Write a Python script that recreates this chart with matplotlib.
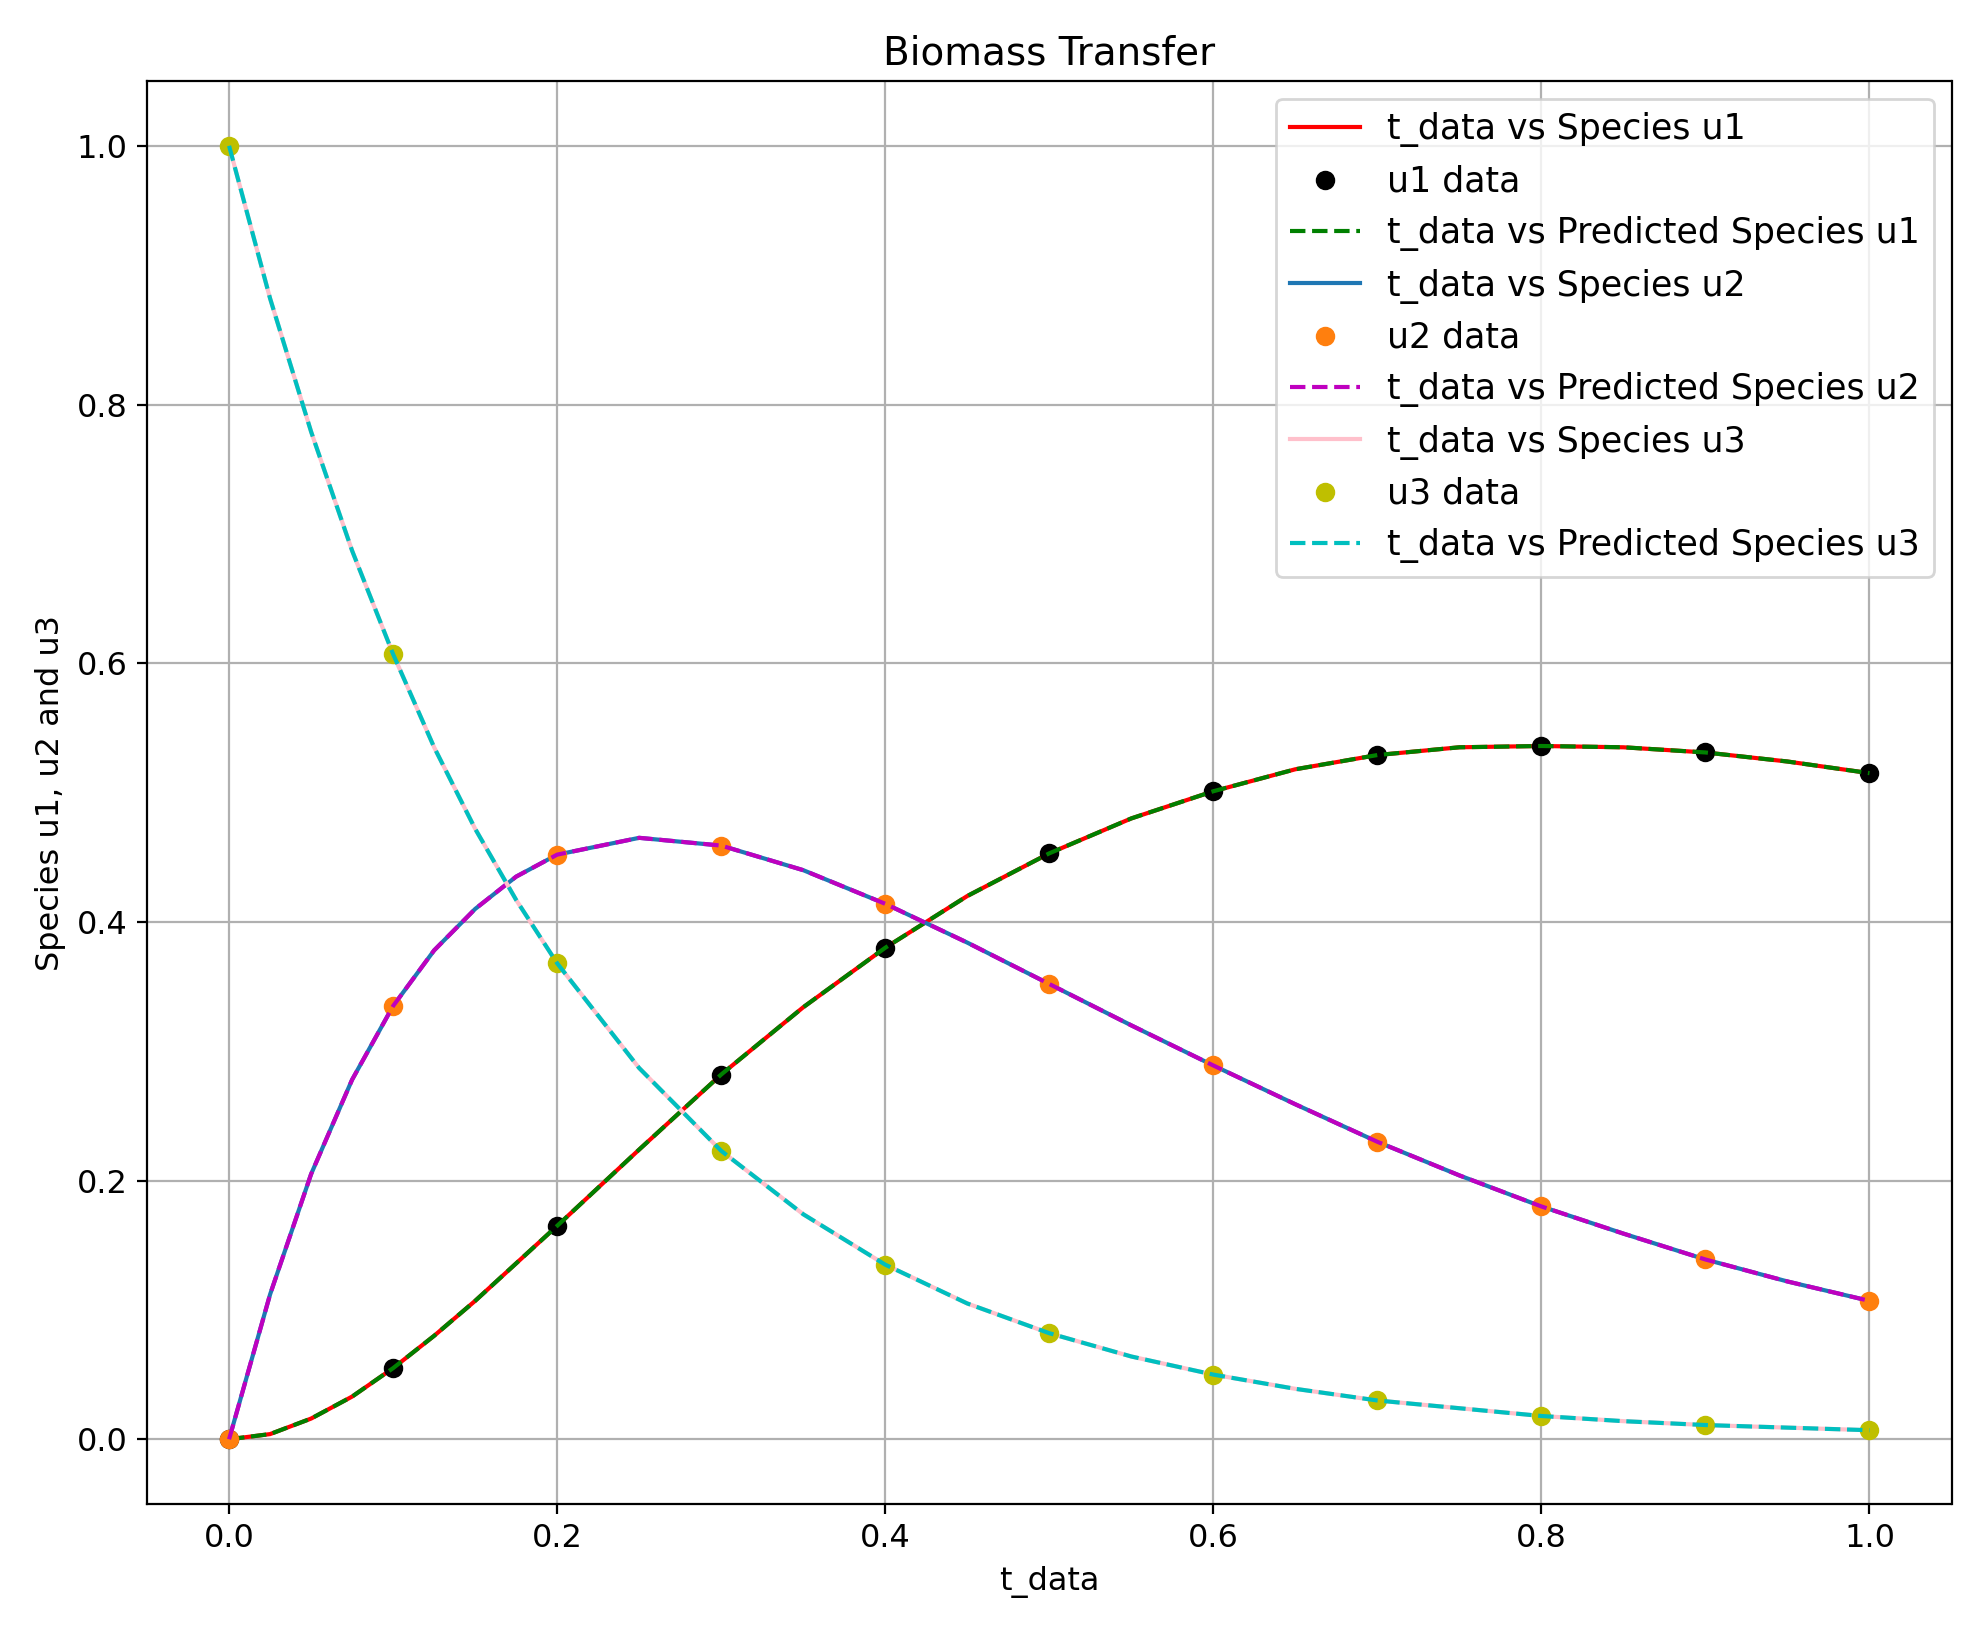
import numpy as np
import matplotlib.pyplot as plt

plt.rcParams["font.size"] = 11.5

# sampled data points
t_data = [0.0, 0.1, 0.2, 0.3, 0.4, 0.5, 0.6, 0.7, 0.8, 0.9, 1.0]
u1_data = [0.0, 0.055, 0.165, 0.282, 0.380, 0.453, 0.501, 0.529, 0.536, 0.531, 0.515]
u2_data = [0.0, 0.335, 0.452, 0.459, 0.414, 0.352, 0.289, 0.230, 0.180, 0.139, 0.107]
u3_data = [1.0, 0.607, 0.368, 0.223, 0.135, 0.082, 0.050, 0.030, 0.018, 0.011, 0.007]

# curve values read at finer steps
t_fine = [0.0, 0.025, 0.05, 0.075, 0.1, 0.125, 0.15, 0.175, 0.2, 0.25, 0.3, 0.35, 0.4, 0.45, 0.5,
          0.55, 0.6, 0.65, 0.7, 0.75, 0.8, 0.85, 0.9, 0.95, 1.0]
u1_curve = [0.0, 0.004, 0.016, 0.033, 0.055, 0.080, 0.107, 0.136, 0.165, 0.224, 0.282, 0.334,
            0.380, 0.420, 0.453, 0.480, 0.501, 0.518, 0.529, 0.535, 0.536, 0.535, 0.531, 0.524, 0.515]
u2_curve = [0.0, 0.112, 0.205, 0.278, 0.335, 0.378, 0.410, 0.435, 0.452, 0.465, 0.459, 0.440,
            0.414, 0.384, 0.352, 0.320, 0.289, 0.259, 0.230, 0.204, 0.180, 0.159, 0.139, 0.122, 0.107]
u3_curve = [1.0, 0.882, 0.779, 0.687, 0.607, 0.535, 0.472, 0.417, 0.368, 0.287, 0.223, 0.174,
            0.135, 0.105, 0.082, 0.064, 0.050, 0.039, 0.030, 0.024, 0.018, 0.014, 0.011, 0.009, 0.007]

fig, ax = plt.subplots(figsize=(9.93, 8.16), dpi=200)
ax.plot(t_fine, u1_curve, color="red", label="t_data vs Species u1")
ax.plot(t_data, u1_data, "o", color="black", label="u1 data")
ax.plot(t_fine, u1_curve, "--", color="green", label="t_data vs Predicted Species u1")
ax.plot(t_fine, u2_curve, color="tab:blue", label="t_data vs Species u2")
ax.plot(t_data, u2_data, "o", color="tab:orange", label="u2 data")
ax.plot(t_fine, u2_curve, "--", color="m", label="t_data vs Predicted Species u2")
ax.plot(t_fine, u3_curve, color="pink", label="t_data vs Species u3")
ax.plot(t_data, u3_data, "o", color="y", label="u3 data")
ax.plot(t_fine, u3_curve, "--", color="c", label="t_data vs Predicted Species u3")

ax.set_title("Biomass Transfer", fontsize=14)
ax.set_xlabel("t_data")
ax.set_ylabel("Species u1, u2 and u3")
ax.grid(True)
ax.legend(loc="upper right", fontsize=12.5)
plt.tight_layout()
fig.savefig("out.png")
